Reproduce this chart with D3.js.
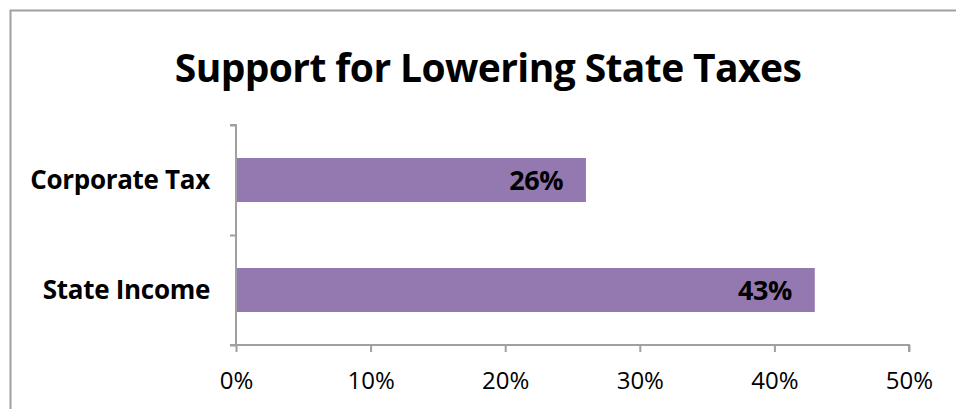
<!DOCTYPE html>
<html>
<head>
<meta charset="utf-8">
<script src="https://cdn.jsdelivr.net/npm/d3@7"></script>
<style>
  body { margin: 0; background: #fff; }
  text { font-family: "Open Sans", sans-serif; }
</style>
</head>
<body>
<div id="chart"></div>
<script>
// Chart data
const categories = ['Corporate Tax', 'State Income'];
const values = [26, 43];
const tickValues = [0, 10, 20, 30, 40, 50];
const title = 'Support for Lowering State Taxes';

const width = 956;
const height = 409;
const margin = { top: 125, right: 47, bottom: 64, left: 236 };

const svg = d3.select('#chart')
  .append('svg')
  .attr('width', width)
  .attr('height', height);

// Outer chart border (runs off the right and bottom edges)
svg.append('rect')
  .attr('x', 10.5)
  .attr('y', 10.5)
  .attr('width', width)
  .attr('height', height)
  .attr('fill', 'none')
  .attr('stroke', '#a0a0a0')
  .attr('stroke-width', 2);

// Title
svg.append('text')
  .attr('x', 488)
  .attr('y', 82)
  .attr('text-anchor', 'middle')
  .style('font-size', '39px')
  .style('font-weight', 'bold')
  .style('letter-spacing', '-0.6px')
  .text(title);

// Scales
const x = d3.scaleLinear()
  .domain([0, 50])
  .range([margin.left, width - margin.right]);

const y = d3.scaleBand()
  .domain(categories)
  .range([margin.top, height - margin.bottom])
  .paddingInner(0.6)
  .paddingOuter(0.3);

// Bars
svg.selectAll('.bar')
  .data(categories)
  .enter().append('rect')
  .attr('class', 'bar')
  .attr('x', x(0))
  .attr('y', (d) => y(d))
  .attr('width', (d, i) => x(values[i]) - x(0))
  .attr('height', y.bandwidth())
  .attr('fill', '#9479b0');

// Value labels inside bar ends
svg.selectAll('.value')
  .data(categories)
  .enter().append('text')
  .attr('class', 'value')
  .attr('x', (d, i) => x(values[i]) - 23)
  .attr('y', (d) => y(d) + y.bandwidth() / 2)
  .attr('dy', '0.36em')
  .attr('text-anchor', 'end')
  .style('font-size', '27px')
  .style('font-weight', 'bold')
  .style('letter-spacing', '-0.5px')
  .text((d, i) => values[i] + '%');

// X axis
const xAxis = svg.append('g')
  .attr('transform', 'translate(0,' + (height - margin.bottom) + ')')
  .call(d3.axisBottom(x)
    .tickValues(tickValues)
    .tickSize(7)
    .tickPadding(20)
    .tickFormat((d) => d + '%'));
xAxis.select('.domain').attr('stroke', '#a0a0a0').attr('stroke-width', 2)
  .attr('d', 'M' + (x(0) - 6) + ',0H' + x(50) + 'V7');
xAxis.selectAll('.tick line').attr('stroke', '#a0a0a0').attr('stroke-width', 2);
xAxis.selectAll('.tick text')
  .style('font-size', '24px')
  .style('font-family', '"Open Sans", sans-serif')
  .attr('fill', '#000');

// Y axis: ticks sit on band boundaries, so draw with a linear helper
const yEdges = d3.scaleLinear()
  .domain([0, categories.length])
  .range([margin.top, height - margin.bottom]);
const yAxis = svg.append('g')
  .attr('transform', 'translate(' + margin.left + ',0)')
  .call(d3.axisLeft(yEdges)
    .ticks(categories.length)
    .tickSize(6)
    .tickFormat(''));
yAxis.select('.domain').attr('stroke', '#a0a0a0').attr('stroke-width', 2)
  .attr('d', 'M-6,' + margin.top + 'H0V' + (height - margin.bottom));
yAxis.selectAll('.tick line').attr('stroke', '#a0a0a0').attr('stroke-width', 2);

// Category labels
svg.selectAll('.category')
  .data(categories)
  .enter().append('text')
  .attr('class', 'category')
  .attr('x', margin.left - 26)
  .attr('y', (d) => y(d) + y.bandwidth() / 2)
  .attr('dy', '0.36em')
  .attr('text-anchor', 'end')
  .style('font-size', '26px')
  .style('font-weight', 'bold')
  .style('letter-spacing', '-0.3px')
  .text((d) => d);
</script>
</body>
</html>
